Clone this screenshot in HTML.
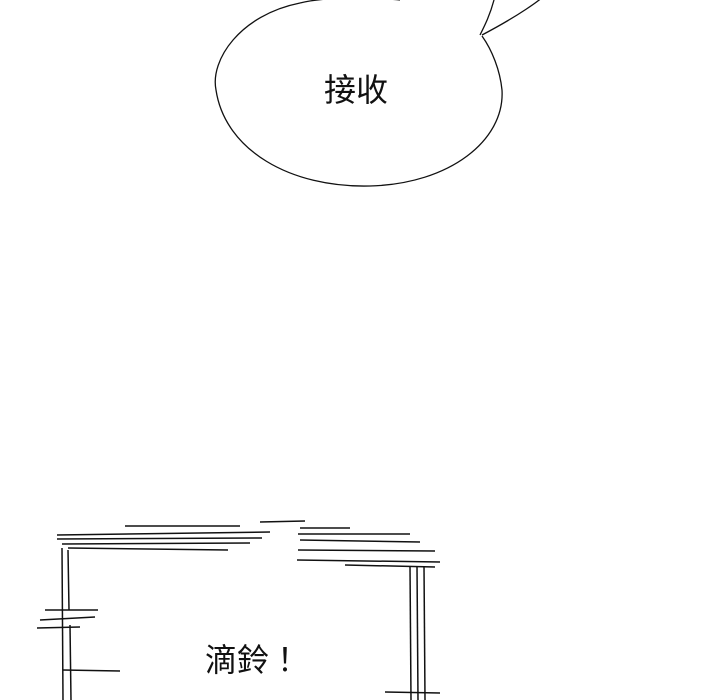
<!DOCTYPE html>
<html><head><meta charset="utf-8"><style>
html,body{margin:0;padding:0;background:#fff;}
body{width:720px;height:700px;position:relative;overflow:hidden;font-family:"Liberation Sans","Noto Sans CJK TC",sans-serif;}
.t{position:absolute;color:#111;font-size:32px;white-space:nowrap;}
</style></head><body>
<svg width="720" height="700" style="position:absolute;left:0;top:0" fill="none" stroke="#111" stroke-width="1.3">
<path d="M482,35 C520,15 540,0 545,-5"/>
<path d="M494,0 C490,15 485,25 480,35"/>
<path d="M300,3 C240,15 210,60 216,90 C225,150 290,188 370,186 C450,184 505,140 502,90 C500,70 492,50 482,36"/>
<path d="M300,3 C320,-2 360,-4 400,0"/>
<g stroke-width="1.5">
<path d="M57,535 L270,532"/><path d="M57,539 L262,538"/><path d="M62,544 L250,543"/><path d="M68,548 L228,550"/>
<path d="M125,526 L240,526"/><path d="M260,522 L305,521"/>
<path d="M298,534 L410,534"/><path d="M300,540 L420,542"/><path d="M298,550 L435,551"/><path d="M297,560 L440,562"/><path d="M345,565 L435,567"/>
<path d="M300,528 L350,528"/>
<path d="M62,548 L63,700"/><path d="M68,550 L69,610"/><path d="M70,625 L71,700"/>
<path d="M45,610 L98,610"/><path d="M40,620 L95,617"/><path d="M37,628 L80,627"/><path d="M63,670 L120,671"/>
<path d="M410,566 L411,700"/><path d="M417,566 L418,700"/><path d="M424,566 L425,700"/>
<path d="M385,692 L440,693"/>
</g>
</svg>
<div class="t" style="left:324px;top:65px;">接收</div>
<div class="t" style="left:205px;top:635px;">滴鈴！</div>
</body></html>
